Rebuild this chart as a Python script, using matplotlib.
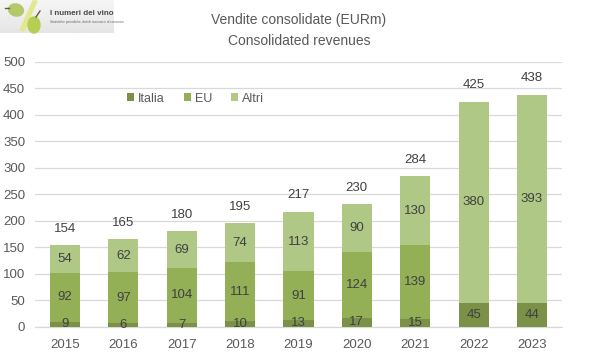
import matplotlib
matplotlib.use("Agg")
import matplotlib.pyplot as plt
from matplotlib.patches import Ellipse, Polygon
import numpy as np

years = ["2015", "2016", "2017", "2018", "2019", "2020", "2021", "2022", "2023"]
italia = [9, 6, 7, 10, 13, 17, 15, 45, 44]
eu = [92, 97, 104, 111, 91, 124, 139, 0, 0]
altri = [54, 62, 69, 74, 113, 90, 130, 380, 393]
totals = [154, 165, 180, 195, 217, 230, 284, 425, 438]
yticks = [0, 50, 100, 150, 200, 250, 300, 350, 400, 450, 500]
series_names = ["Italia", "EU", "Altri"]
title_lines = "Vendite consolidate (EURm)\nConsolidated revenues"
logo_title = "I numeri del vino"
logo_sub = "Statistiche periodiche, dati di mercato e di consumo"

W, H = 598, 363
plt.rcParams["font.family"] = ["Liberation Sans", "DejaVu Sans"]
fig = plt.figure(figsize=(W / 100, H / 100), dpi=100, facecolor="white")
ax = fig.add_axes([35 / W, 1 - 326.5 / H, (562 - 35) / W, (326.5 - 62) / H])

colors = ["#7C9148", "#93B057", "#AFC886"]
text_col = "#404040"
tick_col = "#595959"
x = np.arange(len(years))
bw = 0.514
bottom = np.zeros(len(years))
for vals, col, name in zip([italia, eu, altri], colors, series_names):
    v = np.array(vals, dtype=float)
    ax.bar(x, v, bw, bottom=bottom, color=col, label=name, zorder=3)
    for xi, b, val in zip(x, bottom, v):
        if val > 0:
            ax.text(xi, b + val / 2, f"{int(val)}", ha="center", va="center",
                    fontsize=9.5, color=text_col, zorder=4)
    bottom += v
for xi, t in zip(x, totals):
    ax.text(xi, t + 31, str(t), ha="center", va="center", fontsize=9.5, color=text_col, zorder=4)

ax.set_xlim(-0.514, len(years) - 1 + 0.514)
ax.set_ylim(0, 500)
ax.set_yticks(yticks)
ax.set_xticks(x, years)
ax.grid(axis="y", color="#D9D9D9", lw=0.9, zorder=0)
ax.set_axisbelow(True)
ax.tick_params(axis="both", length=0, labelsize=9.5, labelcolor=tick_col)
ax.tick_params(axis="x", pad=9)
ax.tick_params(axis="y", pad=7)
for s in ["top", "right", "left"]:
    ax.spines[s].set_visible(False)
ax.spines["bottom"].set_color("#D9D9D9")
ax.spines["bottom"].set_linewidth(0.9)

ax.legend(loc="upper left", bbox_to_anchor=((127 - 35) / 527, 1 - (92.5 - 62) / 264.5),
          ncol=3, frameon=False, fontsize=9, labelcolor=tick_col, handlelength=0.58,
          handleheight=0.58, handletextpad=0.3, columnspacing=1.5, borderpad=0, borderaxespad=0)

fig.text(299 / W, 1 - 30.5 / H, title_lines, ha="center", va="center", fontsize=10,
         color=tick_col, linespacing=1.55)

# logo: same-pixel overlay in figure coordinates
ov = fig.add_axes([0, 0, 1, 1], facecolor="none", zorder=5)
grad = np.linspace(0.96, 0.90, 32)[:, None]
ov.imshow(grad, extent=(0, 114, 33, 0), cmap="gray", vmin=0, vmax=1, aspect="auto", zorder=1)
ov.set_xlim(0, W)
ov.set_ylim(H, 0)
ov.axis("off")
ov.add_patch(Polygon([[20, 30], [33, 1], [37, 1], [24, 31]], color="#E3E88E", zorder=2))
ov.add_patch(Ellipse((16, 10), 15, 12, angle=15, color="#B3C96A", zorder=3))
ov.add_patch(Ellipse((34, 25), 12, 16, color="#B5CF52", zorder=3))
ov.plot([5, 9], [8, 8], color="#6B5A3A", lw=1, zorder=3)
ov.plot([36, 40], [17, 11], color="#6B5A3A", lw=1, zorder=3)
ov.text(49.5, 13.5, logo_title, fontsize=5.8, fontweight="bold", color="#4A4A4A", va="center", ha="left", zorder=4)
ov.text(49.5, 21.5, logo_sub, fontsize=2.3, color="#666666", va="center", ha="left", zorder=4)

fig.savefig("out.png", dpi=100, facecolor="white")
